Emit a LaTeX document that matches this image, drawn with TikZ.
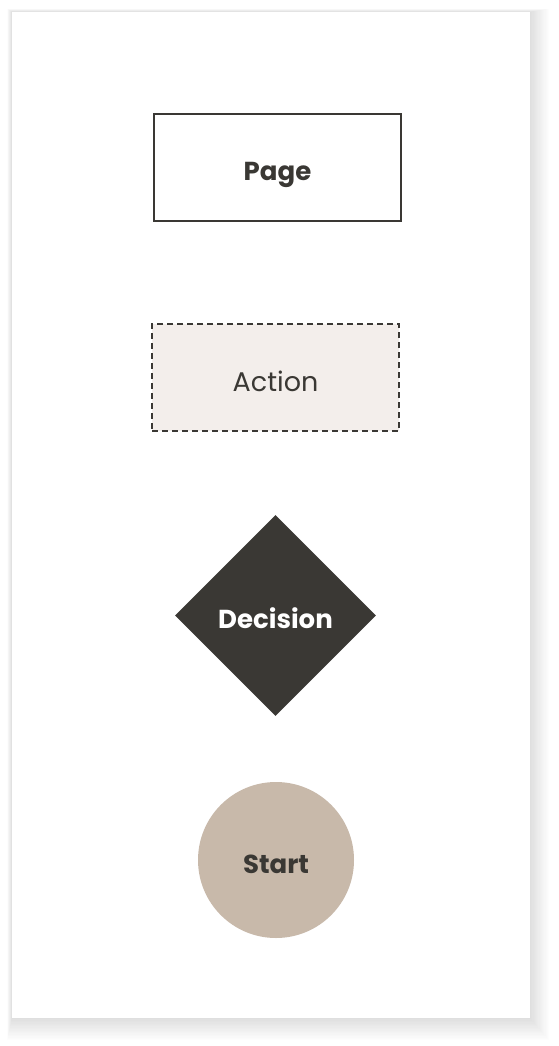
\documentclass[tikz,border=0pt]{standalone}
\usepackage{fontspec}
\setmainfont{Poppins}
\usetikzlibrary{shapes.geometric}
\definecolor{inkc}{HTML}{3A3834}
\definecolor{sandc}{HTML}{C8B9AA}
\definecolor{mistc}{HTML}{F3EEEB}
\colorlet{shadowc}{black}
\tikzstyle{pagebox} = [
    draw=inkc,
    line width=1.2pt,
    rectangle,
    minimum width=247pt,
    minimum height=107pt,
    text=inkc,
    text height=26pt,
    text depth=0pt,
    font=\fontsize{26}{30}\selectfont\bfseries
    ]
\tikzstyle{actionbox} = [
    draw=inkc,
    fill=mistc,
    line width=1.2pt,
    dash pattern=on 6pt off 4pt,
    rectangle,
    minimum width=247pt,
    minimum height=107pt,
    text=inkc,
    text height=27pt,
    text depth=0pt,
    font=\fontsize{27}{31}\selectfont
    ]
\tikzstyle{decisionbox} = [
    fill=inkc,
    diamond,
    aspect=1,
    inner sep=0pt,
    minimum width=201pt,
    minimum height=201pt,
    text=white,
    text height=25pt,
    text depth=0pt,
    font=\fontsize{26}{30}\selectfont\bfseries
    ]
\tikzstyle{startbox} = [
    fill=sandc,
    circle,
    inner sep=0pt,
    minimum size=156pt,
    text=inkc,
    text height=26pt,
    text depth=0pt,
    font=\fontsize{26}{30}\selectfont\bfseries
    ]

\begin{document}
\begin{tikzpicture}[x=1pt,y=-1pt]
\useasboundingbox (0,0) rectangle (558,1046);
\fill[white] (0,0) rectangle (558,1046);
% soft shadow of the card
\foreach \s in {1,...,16}{
  \fill[shadowc,opacity=0.009] (12-\s*0.3,12-\s*0.2) rectangle (530+\s*1.2,1018+\s*1.4);
}
\fill[white] (12,12) rectangle (530,1018);

\node [pagebox] (page) at (277.5,167.5) {Page};
\node [actionbox] (action) at (275.5,377.5) {Action};
\node [decisionbox] (decision) at (275.5,615.5) {Decision};
\node [startbox] (start) at (276,860) {Start};
\end{tikzpicture}
\end{document}
